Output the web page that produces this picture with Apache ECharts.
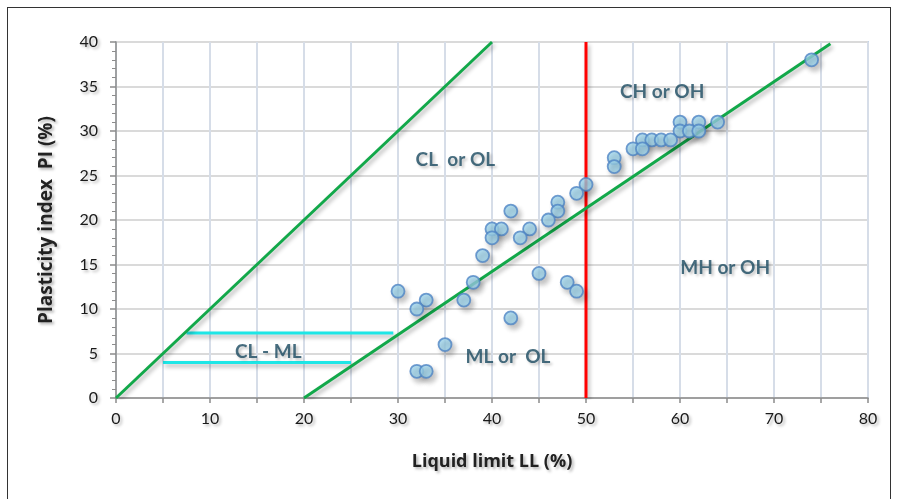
<!DOCTYPE html>
<html>
<head>
<meta charset="utf-8">
<script src="https://cdn.jsdelivr.net/npm/echarts@6/dist/echarts.min.js"></script>
<style>
html,body{margin:0;padding:0;background:#fff;}
#frame{position:absolute;left:7px;top:7px;width:884px;height:520px;border:1.5px solid #333;box-sizing:border-box;}
#chart{position:absolute;left:0;top:0;width:899px;height:499px;}
</style>
</head>
<body>
<div id="frame"></div>
<div id="chart"></div>
<script>
// Soil samples: liquid limit LL (%), plasticity index PI (%)
const samplesLL = [74,60,62,64,60,61,62,56,57,58,59,55,56,53,53,50,49,47,47,46,42,40,41,44,40,43,39,38,45,48,49,30,33,32,37,42,35,32,33];
const samplesPI = [38,31,31,31,30,30,30,29,29,29,29,28,28,27,26,24,23,22,21,20,21,19,19,19,18,18,16,13,14,13,12,12,11,10,11,9,6,3,3];

// Reference lines
const uLine = [[0,0],[40,40]];
const aLine = [[20,0],[76,39.8]];
const llLine = [[50,0],[50,40]];
const clmlUpper = [[7.5,7.3],[29.5,7.3]];
const clmlLower = [[5,4],[25,4]];

// Zone labels [LL, PI, text]
const zoneLabels = [
  [36.1,26.7,'CL  or OL'],
  [58.1,34.4,'CH or OH'],
  [64.8,14.6,'MH or OH'],
  [41.7,4.6,'ML or  OL'],
  [16.2,5.2,'CL - ML']
];

const xTicks = [0,10,20,30,40,50,60,70,80];
const yTicks = [0,5,10,15,20,25,30,35,40];

const chart = echarts.init(document.getElementById('chart'), null, {renderer:'canvas'});
const FONT = 'Lato';
const NAMEFONT = 'Open Sans';
const shadow = {shadowColor:'rgba(0,0,0,0.3)', shadowBlur:4, shadowOffsetX:2, shadowOffsetY:3};
const txtShadow = {textShadowColor:'rgba(0,0,0,0.3)', textShadowBlur:3, textShadowOffsetX:2, textShadowOffsetY:2};

function lineSeries(data, color){
  return {type:'line', data:data, symbol:'none', silent:true, z:3,
    lineStyle:Object.assign({color:color, width:3}, shadow)};
}

const points = samplesLL.map((v,i)=>[v, samplesPI[i]]);

chart.setOption({
  animation:false,
  backgroundColor:'transparent',
  grid:{left:116, right:31, top:42, bottom:101, show:true, borderColor:'#95b3d7', borderWidth:1.5, backgroundColor:'#fff'},
  xAxis:{
    type:'value', min:0, max:80, interval:5,
    name:'Liquid limit LL (%)', nameLocation:'middle', nameGap:55,
    nameTextStyle:Object.assign({fontFamily:NAMEFONT, fontSize:18, fontWeight:'bold', color:'#222'}, txtShadow),
    axisLine:{lineStyle:{color:'#8c8c8c', width:1.5}},
    axisTick:{show:true, inside:false, length:5, lineStyle:{color:'#8c8c8c', width:1.5}},
    axisLabel:Object.assign({margin:13, fontFamily:FONT, fontSize:16, color:'#1a1a1a',
      formatter:v=> xTicks.indexOf(v)>=0 ? String(v) : ''}, txtShadow),
    splitLine:{show:true, lineStyle:{color:'#d6dde8', width:2}}
  },
  yAxis:{
    type:'value', min:0, max:40, interval:5,
    name:'Plasticity index  PI (%)', nameLocation:'middle', nameGap:60,
    nameTextStyle:Object.assign({fontFamily:NAMEFONT, fontSize:19, fontWeight:'bold', color:'#222'}, txtShadow),
    axisLine:{show:true, lineStyle:{color:'#8c8c8c', width:1.5}},
    axisTick:{show:true, inside:false, length:6, lineStyle:{color:'#8c8c8c', width:1.5}},
    minorTick:{show:true, splitNumber:5, length:4, lineStyle:{color:'#8c8c8c', width:1}},
    axisLabel:Object.assign({margin:18, fontFamily:FONT, fontSize:16, color:'#1a1a1a',
      formatter:v=> yTicks.indexOf(v)>=0 ? String(v) : ''}, txtShadow),
    splitLine:{show:true, lineStyle:{color:'#dadada', width:2}}
  },
  series:[
    lineSeries(clmlUpper,'#1ee6e6'),
    lineSeries(clmlLower,'#1ee6e6'),
    lineSeries(uLine,'#12a84a'),
    lineSeries(llLine,'#ff0000'),
    {type:'scatter', data:points, symbol:'circle', symbolSize:13, z:4,
      itemStyle:{color:'#9fd6ee', borderColor:'#4f84c4', borderWidth:1.8, shadowColor:'rgba(0,0,0,0.28)', shadowBlur:5, shadowOffsetX:3, shadowOffsetY:4}},
    lineSeries(aLine,'#12a84a'),
    {type:'scatter', data:zoneLabels, symbolSize:0, silent:true, z:6,
      encode:{x:0, y:1},
      label:Object.assign({show:true, position:'inside', formatter:p=>p.data[2],
        fontFamily:FONT, fontSize:19, fontWeight:'bold', color:'#1a4a60'}, txtShadow)}
  ]
});
</script>
</body>
</html>
